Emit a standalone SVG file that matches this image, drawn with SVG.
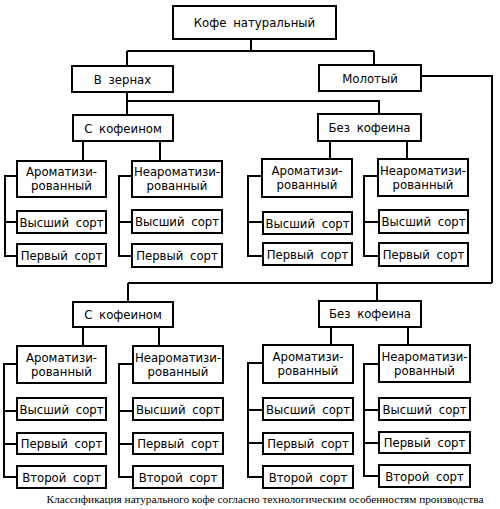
<svg xmlns="http://www.w3.org/2000/svg" width="500" height="509" viewBox="0 0 500 509">
<style>
.b{fill:#fff;stroke:#000;stroke-width:2}
.t{font-family:"DejaVu Sans Condensed","DejaVu Sans",sans-serif;font-stretch:condensed;font-size:13px;text-anchor:middle;fill:#000;word-spacing:3px}
.c{fill:none;stroke:#000;stroke-width:2}
.cap{font-family:"Liberation Serif","Times New Roman",serif;font-size:11.3px;text-anchor:middle;fill:#000}
</style>
<rect width="500" height="509" fill="#fff"/>
<g id="connectors" class="c">
<path d="M251,39V51M127,51H374M127,51V66M374,51V65"/>
<path d="M421,76H492V283M128,283H492M128,283V302M377,283V301"/>
<path d="M127,92V101H379V114M127,101V115"/>
<path d="M83,141V161M160,141V161M330,141V159M407,141V159"/>
<path d="M17,176H5V256H17M5,222H17"/>
<path d="M132,176H119V256H132M119,222H132"/>
<path d="M262,176H248V256H263M248,222H263"/>
<path d="M378,176H364V256H379M364,222H379"/>
<path d="M83,327V346M159,327V346M331,327V345M408,327V345"/>
<path d="M17,364H4V477H17M4,411H17M4,444H17"/>
<path d="M133,364H119V477H133M119,411H133M119,444H133"/>
<path d="M263,363H248V477H263M248,410H263M248,443H263"/>
<path d="M379,364H364V476H379M364,410H379M364,443H379"/>
</g>
<g id="n0"><rect class="b" x="173" y="6" width="163" height="33"/><text class="t" x="254.5" y="27">Кофе натуральный</text></g>
<g id="n1"><rect class="b" x="72" y="66" width="101" height="26"/><text class="t" x="122.5" y="84">В зернах</text></g>
<g id="n2"><rect class="b" x="319" y="65" width="102" height="26"/><text class="t" x="370" y="83">Молотый</text></g>
<g id="n3"><rect class="b" x="73" y="115" width="100" height="26"/><text class="t" x="123" y="133">С кофеином</text></g>
<g id="n4"><rect class="b" x="318" y="114" width="103" height="27"/><text class="t" x="369.5" y="132">Без кофеина</text></g>
<g id="n5"><rect class="b" x="17" y="161" width="89" height="36"/><text class="t" x="61.5" y="176">Ароматизи-</text><text class="t" x="61.5" y="190">рованный</text></g>
<g id="n6"><rect class="b" x="132" y="161" width="90" height="36"/><text class="t" x="177" y="176">Неароматизи-</text><text class="t" x="177" y="190">рованный</text></g>
<g id="n7"><rect class="b" x="17" y="211" width="89" height="22"/><text class="t" x="61.5" y="227">Высший сорт</text></g>
<g id="n8"><rect class="b" x="17" y="244" width="89" height="22"/><text class="t" x="61.5" y="260">Первый сорт</text></g>
<g id="n9"><rect class="b" x="132" y="210" width="90" height="23"/><text class="t" x="177" y="226">Высший сорт</text></g>
<g id="n10"><rect class="b" x="132" y="244" width="90" height="23"/><text class="t" x="177" y="260">Первый сорт</text></g>
<g id="n11"><rect class="b" x="262" y="159" width="90" height="38"/><text class="t" x="307" y="175">Ароматизи-</text><text class="t" x="307" y="189">рованный</text></g>
<g id="n12"><rect class="b" x="378" y="159" width="90" height="37"/><text class="t" x="423" y="175">Неароматизи-</text><text class="t" x="423" y="189">рованный</text></g>
<g id="n13"><rect class="b" x="263" y="212" width="89" height="22"/><text class="t" x="307.5" y="228">Высший сорт</text></g>
<g id="n14"><rect class="b" x="263" y="243" width="89" height="22"/><text class="t" x="307.5" y="259">Первый сорт</text></g>
<g id="n15"><rect class="b" x="379" y="210" width="89" height="23"/><text class="t" x="423.5" y="226">Высший сорт</text></g>
<g id="n16"><rect class="b" x="379" y="243" width="89" height="23"/><text class="t" x="423.5" y="259">Первый сорт</text></g>
<g id="n17"><rect class="b" x="73" y="302" width="100" height="25"/><text class="t" x="123" y="319">С кофеином</text></g>
<g id="n18"><rect class="b" x="319" y="301" width="102" height="26"/><text class="t" x="370" y="318">Без кофеина</text></g>
<g id="n19"><rect class="b" x="17" y="346" width="89" height="37"/><text class="t" x="61.5" y="362">Ароматизи-</text><text class="t" x="61.5" y="376">рованный</text></g>
<g id="n20"><rect class="b" x="133" y="346" width="90" height="37"/><text class="t" x="178" y="362">Неароматизи-</text><text class="t" x="178" y="376">рованный</text></g>
<g id="n21"><rect class="b" x="17" y="398" width="89" height="22"/><text class="t" x="61.5" y="414">Высший сорт</text></g>
<g id="n22"><rect class="b" x="17" y="433" width="89" height="21"/><text class="t" x="61.5" y="448">Первый сорт</text></g>
<g id="n23"><rect class="b" x="17" y="466" width="89" height="22"/><text class="t" x="61.5" y="482">Второй сорт</text></g>
<g id="n24"><rect class="b" x="133" y="398" width="90" height="22"/><text class="t" x="178" y="414">Высший сорт</text></g>
<g id="n25"><rect class="b" x="133" y="433" width="90" height="21"/><text class="t" x="178" y="448">Первый сорт</text></g>
<g id="n26"><rect class="b" x="133" y="466" width="90" height="22"/><text class="t" x="178" y="482">Второй сорт</text></g>
<g id="n27"><rect class="b" x="263" y="345" width="90" height="38"/><text class="t" x="308" y="361">Ароматизи-</text><text class="t" x="308" y="375">рованный</text></g>
<g id="n28"><rect class="b" x="379" y="345" width="91" height="37"/><text class="t" x="424.5" y="361">Неароматизи-</text><text class="t" x="424.5" y="375">рованный</text></g>
<g id="n29"><rect class="b" x="263" y="398" width="90" height="22"/><text class="t" x="308" y="414">Высший сорт</text></g>
<g id="n30"><rect class="b" x="263" y="433" width="90" height="21"/><text class="t" x="308" y="448">Первый сорт</text></g>
<g id="n31"><rect class="b" x="263" y="466" width="90" height="22"/><text class="t" x="308" y="482">Второй сорт</text></g>
<g id="n32"><rect class="b" x="379" y="398" width="91" height="22"/><text class="t" x="424.5" y="414">Высший сорт</text></g>
<g id="n33"><rect class="b" x="379" y="432" width="91" height="21"/><text class="t" x="424.5" y="447">Первый сорт</text></g>
<g id="n34"><rect class="b" x="379" y="465" width="91" height="22"/><text class="t" x="424.5" y="481">Второй сорт</text></g>
<text class="cap" x="265" y="503">Классификация натурального кофе согласно технологическим особенностям производства</text>
</svg>
